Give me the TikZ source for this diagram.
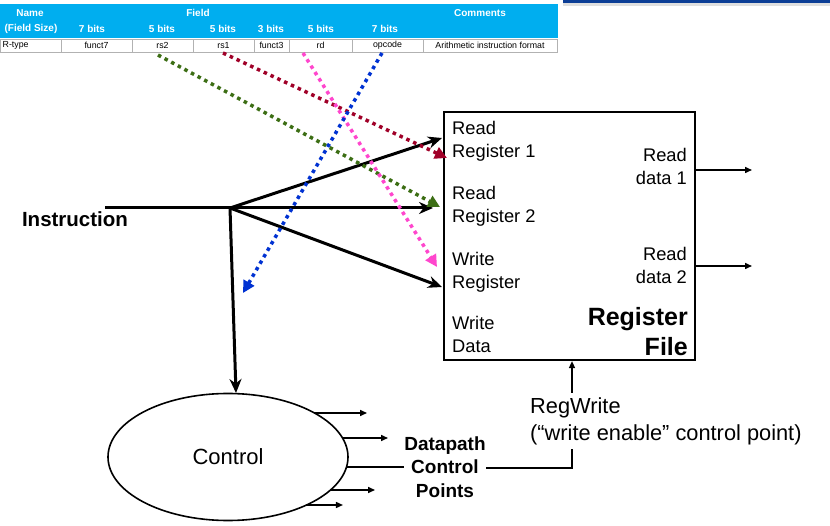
\documentclass[tikz,border=0pt]{standalone}
\usepackage{fontspec}
\setmainfont{Liberation Sans}
\usetikzlibrary{arrows.meta,positioning,shapes.geometric,calc}

\definecolor{hdrblue}{RGB}{0,174,239}
\definecolor{barblue}{RGB}{12,62,150}
\definecolor{rsonered}{RGB}{160,0,40}
\definecolor{rstwogreen}{RGB}{60,110,20}
\definecolor{rdpink}{RGB}{255,70,205}
\definecolor{opblue}{RGB}{0,50,210}

\tikzset{
  bus/.style={line width=3pt, -{Stealth[length=14pt,width=12pt]}},
  field/.style={line width=3.5pt, dash pattern=on 3.5pt off 4pt, -{Triangle[length=12pt,width=12pt]}},
  wire/.style={line width=1.5pt, -{Triangle[length=7pt,width=6pt]}},
  plainwire/.style={line width=1.5pt},
  lbl/.style={font=\fontsize{18.3}{23}\selectfont, inner sep=0pt},
  cell/.style={inner sep=0pt, font=\fontsize{8.8}{10}\selectfont},
  hdr/.style={text=white, inner sep=0pt, font=\bfseries\fontsize{10}{11}\selectfont},
}

\begin{document}
\begin{tikzpicture}[x=1pt, y=-1pt]
    \useasboundingbox (0,0) rectangle (830,526);
    \fill[white] (0,0) rectangle (830,526);

    % instruction format table
    \fill[barblue] (563,0) rectangle (830,3.5);
    \fill[gray!25] (563,3.5) rectangle (830,6);
    \fill[hdrblue] (0,4) rectangle (558,38);
    \node[hdr] (hname) at (30,13) {Name};
    \node[hdr] (hsize) at (31,28.5) {(Field Size)};
    \node[hdr] (hfield) at (198,13) {Field};
    \node[hdr] (hcomm) at (480,13) {Comments};
    \foreach \x/\b [count=\i] in {92/7, 162/5, 223/5, 271/3, 321/5, 385/7}
        \node[hdr] (bits\i) at (\x,28.5) {\b\ bits};

    \foreach \l/\r/\t [count=\i] in {0/61/{}, 61/132/funct7, 132/193/rs2, 193/254/rs1,
                                     254/289/funct3, 289/352/rd, 352/423/opcode,
                                     423/557/Arithmetic instruction format}
    {
        \draw[gray!60, line width=0.6pt] (\l,39) rectangle (\r,52);
        \node[cell] (cell\i) at ({(\l+\r)/2},45.5) {\t};
    }
    \node[cell, anchor=west] (rtype) at (2.5,45.5) {R-type};

    % register file
    \node[draw, line width=2.2pt, minimum width=251pt, minimum height=248pt, inner sep=0pt] (rf) at (569.5,236) {};
    \node[lbl, anchor=west, align=left] (rreg1) at (452,141.5) {Read\\Register 1};
    \node[lbl, anchor=west, align=left] (rreg2) at (452,206.5) {Read\\Register 2};
    \node[lbl, anchor=west, align=left] (wreg) at (452,272.5) {Write\\Register};
    \node[lbl, anchor=west, align=left] (wdata) at (452,334.5) {Write\\Data};
    \node[lbl, anchor=east, align=right] (rdata1) at (687,166.5) {Read\\data 1};
    \node[lbl, anchor=east, align=right] (rdata2) at (687,265) {Read\\data 2};
    \node[anchor=east, align=right, inner sep=0pt, font=\bfseries\fontsize{25}{30}\selectfont] (rfname) at (688,332) {Register\\File};

    \coordinate (out1) at (752,170);
    \coordinate (out2) at (752,266);
    \draw[wire] (rf.east |- out1) -- (out1);
    \draw[wire] (rf.east |- out2) -- (out2);

    % instruction bits fanning out
    \node[inner sep=0pt, font=\bfseries\fontsize{20.5}{24}\selectfont] (instr) at (75,219) {Instruction};
    \coordinate (instrin) at (105,208);
    \coordinate (j) at (230,208);
    \coordinate (p1) at (442,138);
    \coordinate (p2) at (433,208);
    \coordinate (p3) at (442,287);
    \draw[line width=3pt] (instrin) -- (j);
    \draw[bus] (j) -- (p1);
    \draw[bus] (j) -- (p2);
    \draw[bus] (j) -- (p3);

    \coordinate (rstwo) at (158,55);
    \coordinate (rsone) at (223,53);
    \coordinate (rdf) at (303,53);
    \coordinate (opf) at (382,53);
    \draw[field, rstwogreen] (rstwo) -- (440,207);
    \draw[field, rsonered] (rsone) -- (447,158);
    \draw[field, rdpink] (rdf) -- (437,267);
    \draw[field, opblue] (opf) -- (243,293);

    % control
    \node[draw, ellipse, line width=1.6pt, minimum width=240pt, minimum height=127pt,
          font=\fontsize{22}{26}\selectfont] (ctrl) at (228,457) {Control};
    \coordinate (ctrltop) at (236,393);
    \draw[bus] (j) -- (ctrltop);

    \foreach \dy/\len in {-44/52.5, -19/45.5, 33/44.5, 48/36.4}
        \draw[wire] ({228+120*sqrt(1-(\dy/63.5)^2)},457+\dy) -- ++(\len,0);

    \node[align=center, inner sep=0pt, font=\bfseries\fontsize{19}{23.5}\selectfont] (dcp) at (445,467) {Datapath\\Control\\Points};
    \node[anchor=west, align=left, inner sep=0pt, font=\fontsize{21.8}{27}\selectfont] (rw) at (530,421) {RegWrite\\(“write enable” control point)};

    \coordinate (rwtop) at (572,393);
    \coordinate (rwbot) at (572,449);
    \coordinate (rwcorner) at (572,468);
    \draw[wire] (rwtop) -- (rwtop |- rf.south);
    \draw[plainwire] (346.5,467) -- (dcp.west |- 0,467);
    \draw[plainwire] (rwbot) -- (rwcorner) -- (rwcorner -| dcp.east) ++(4,0);
\end{tikzpicture}
\end{document}
